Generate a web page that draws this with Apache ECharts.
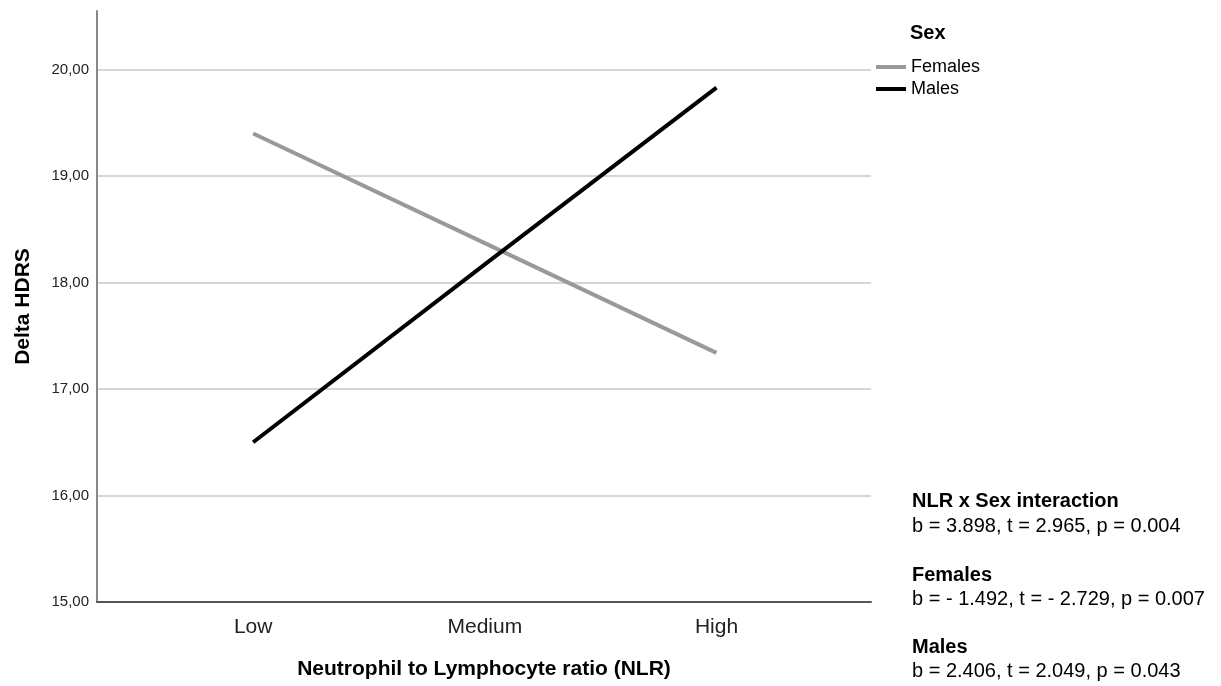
<!DOCTYPE html>
<html>
<head>
<meta charset="utf-8">
<script src="https://cdn.jsdelivr.net/npm/echarts@6/dist/echarts.min.js"></script>
<style>
html,body{margin:0;padding:0;background:#fff;}
#chart{width:1221px;height:686px;}
</style>
</head>
<body>
<div id="chart"></div>
<script>
var categories = ['Low', 'Medium', 'High'];
var categoryPositions = [0, 1, 2];
var females = [19.40, 18.37, 17.34];
var males = [16.50, 18.17, 19.83];
var seriesNames = ['Females', 'Males'];
var yTicks = [15, 16, 17, 18, 19, 20];
var annotationLines = [
  {text: 'NLR x Sex interaction', bold: true},
  {text: 'b = 3.898, t = 2.965, p = 0.004', bold: false},
  {text: 'Females', bold: true},
  {text: 'b = - 1.492, t = - 2.729, p = 0.007', bold: false},
  {text: 'Males', bold: true},
  {text: 'b = 2.406, t = 2.049, p = 0.043', bold: false}
];

var FONT = '"Liberation Sans", Arial, sans-serif';
var chart = echarts.init(document.getElementById('chart'));

function toPairs(vals) {
  return vals.map(function (v, i) { return [categoryPositions[i], v]; });
}

var annotationY = [502, 527, 576, 600, 648, 672];
var graphics = [{
  type: 'text', left: 910, top: 23,
  style: {text: 'Sex', font: 'bold 20px ' + FONT, fill: '#000'}
}];
annotationLines.forEach(function (a, i) {
  graphics.push({
    type: 'text', left: 912, top: annotationY[i] - 11,
    style: {text: a.text, font: (a.bold ? 'bold ' : '') + '20px ' + FONT, fill: '#000'}
  });
});

chart.setOption({
  animation: false,
  backgroundColor: '#fff',
  grid: {left: 97, right: 350, top: 11, bottom: 84},
  legend: {
    orient: 'vertical', left: 876, top: 58, padding: 0,
    itemWidth: 30, itemHeight: 4, itemGap: 4,
    textStyle: {fontFamily: FONT, fontSize: 18, color: '#000'},
    data: [
      {name: 'Females', icon: 'rect'},
      {name: 'Males', icon: 'rect'}
    ]
  },
  xAxis: {
    type: 'value',
    min: -0.674, max: 2.667,
    name: 'Neutrophil to Lymphocyte ratio (NLR)',
    nameLocation: 'middle', nameGap: 57,
    nameTextStyle: {fontFamily: FONT, fontSize: 21, fontWeight: 'bold', color: '#000'},
    axisLine: {show: true, onZero: false, lineStyle: {color: '#555', width: 2}},
    axisTick: {show: false},
    splitLine: {show: false},
    axisLabel: {
      customValues: categoryPositions,
      margin: 15,
      fontFamily: FONT, fontSize: 21, color: '#222',
      formatter: function (v) {
        var idx = categoryPositions.indexOf(Math.round(v));
        return idx >= 0 ? categories[idx] : '';
      }
    }
  },
  yAxis: {
    type: 'value',
    min: 15, max: 20.55, interval: 1,
    name: 'Delta HDRS',
    nameLocation: 'middle', nameGap: 63,
    nameTextStyle: {fontFamily: FONT, fontSize: 21, fontWeight: 'bold', color: '#000'},
    axisLine: {show: true, onZero: false, lineStyle: {color: '#888', width: 2}},
    axisTick: {show: false},
    axisLabel: {
      showMaxLabel: false,
      margin: 8,
      fontFamily: FONT, fontSize: 15, color: '#222',
      formatter: function (v) {
        return yTicks.indexOf(v) >= 0 ? v.toFixed(2).replace('.', ',') : '';
      }
    },
    splitLine: {show: true, showMaxLine: false, lineStyle: {color: '#c8c8c8', width: 1.5}}
  },
  series: [
    {
      name: seriesNames[0], type: 'line', data: toPairs(females),
      showSymbol: false, symbol: 'none', z: 2,
      color: '#999999',
      lineStyle: {color: '#999999', width: 4}
    },
    {
      name: seriesNames[1], type: 'line', data: toPairs(males),
      showSymbol: false, symbol: 'none', z: 3,
      color: '#000000',
      lineStyle: {color: '#000000', width: 4}
    }
  ],
  graphic: graphics
});
</script>
</body>
</html>
